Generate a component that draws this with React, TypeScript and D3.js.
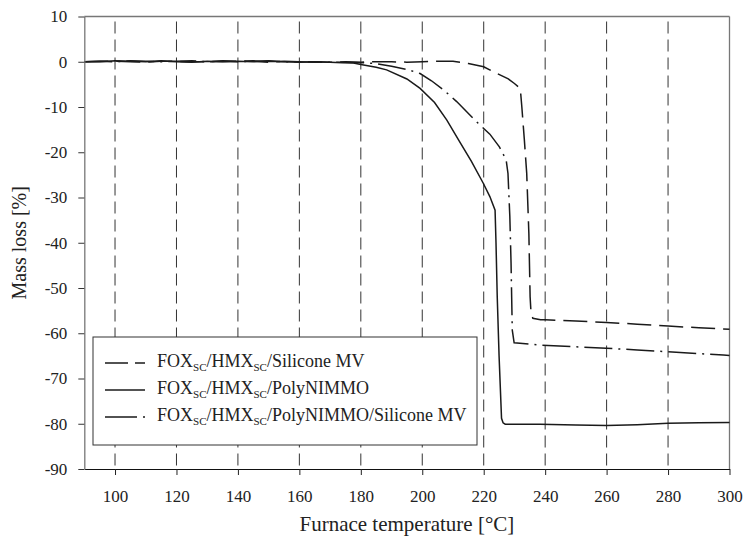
import React, { useEffect, useRef } from "react";
import * as d3 from "d3";

// Silicone MV (dashed)
const siliconeT = [90, 95, 100, 105, 110, 115, 120, 125, 130, 135, 140, 145, 150, 155, 160, 165, 170, 175, 180, 185, 190, 195, 200, 205, 210, 215, 220, 224, 228, 230, 231.9, 232.4, 233.2, 234, 234.7, 235.1, 235.4, 236, 238.5, 240, 250, 260, 270, 280, 290, 300];
const siliconeV = [0, 0.1, 0.1, 0, -0.1, 0.1, 0.1, 0, 0, 0.2, 0.1, 0.2, -0.1, 0.1, 0, 0, -0.1, 0, -0.1, 0, 0, -0.1, 0, 0.1, 0.1, -0.4, -1.1, -2.5, -3.8, -4.8, -5.9, -9.9, -17, -24.7, -38, -51.9, -55.5, -56.7, -57.0, -57.0, -57.3, -57.6, -58.0, -58.4, -58.8, -59.1];

// PolyNIMMO (solid)
const polyT = [90, 95, 100, 105, 110, 115, 120, 125, 130, 135, 140, 145, 150, 155, 160, 165, 170, 174, 177.6, 180, 185, 188.4, 195, 199.3, 204, 208, 212, 216, 219.9, 222, 223.7, 224.0, 224.4, 225, 225.8, 226.3, 227, 230, 238.3, 250, 260, 270, 280, 290, 300];
const polyV = [0, 0, 0.2, 0.1, 0, 0.2, 0, -0.1, 0.1, 0, 0.1, 0, 0.1, 0, -0.1, 0, -0.1, -0.2, -0.3, -0.6, -1.2, -1.8, -3.8, -5.9, -9.0, -12.9, -17.5, -22.0, -26.9, -29.8, -32.8, -40, -51.9, -65, -78.8, -79.8, -80.1, -80.1, -80.1, -80.3, -80.4, -80.2, -79.9, -79.8, -79.7];

// PolyNIMMO/Silicone MV (dash-dot)
const mixT = [90, 95, 100, 105, 110, 115, 120, 125, 130, 135, 140, 145, 150, 155, 160, 165, 170, 175, 180, 185, 190, 195, 199.3, 203, 206.9, 211.2, 218.2, 222, 225.1, 227.3, 227.9, 228.5, 228.9, 229.1, 229.3, 229.9, 231.8, 238.3, 250, 259.9, 270, 280, 290, 298, 300];
const mixV = [0, 0.1, 0, 0.2, 0.1, 0, 0.1, 0.2, 0, 0.1, 0, 0.1, 0.2, 0, 0, -0.1, -0.1, -0.1, -0.2, -0.4, -1.0, -1.7, -2.6, -4.2, -6.2, -8.8, -13.6, -16.0, -18.8, -21.7, -24.7, -34.2, -44.5, -52, -59.3, -62.1, -62.2, -62.6, -63.0, -63.3, -63.7, -64.1, -64.5, -64.8, -64.9];

const xTicks = [100, 120, 140, 160, 180, 200, 220, 240, 260, 280, 300];
const yTicks = [10, 0, -10, -20, -30, -40, -50, -60, -70, -80, -90];
const gridTicks = [100, 120, 140, 160, 180, 200, 220, 240, 260, 280];

const seriesNames = ["Silicone MV", "PolyNIMMO", "PolyNIMMO/Silicone MV"];
const seriesDash = ["24,8", null, "28,6,2,6"];

const font = "Liberation Serif, DejaVu Serif, Noto Serif, serif";

export default function App() {
  const svgRef = useRef<SVGSVGElement>(null);

  useEffect(() => {
    const svg = d3.select(svgRef.current);
    svg.selectAll("*").remove();

    const x = d3.scaleLinear().domain([90, 300]).range([84.3, 729.5]);
    const y = d3.scaleLinear().domain([-90, 10]).range([469, 16.5]);
    const [x0, x1] = x.range();
    const [yB, yT] = y.range();

    const g = svg.append("g").style("font-family", font);

    // dashed vertical grid
    g.selectAll(".grid")
      .data(gridTicks)
      .enter()
      .append("line")
      .attr("x1", d => x(d))
      .attr("x2", d => x(d))
      .attr("y1", yT + 5)
      .attr("y2", yB)
      .attr("stroke", "#333")
      .attr("stroke-width", 1)
      .attr("stroke-dasharray", "12,6");

    // frame (top and right)
    g.append("line").attr("x1", x0).attr("x2", x1).attr("y1", yT).attr("y2", yT)
      .attr("stroke", "#777").attr("stroke-width", 1.3);
    g.append("line").attr("x1", x1).attr("x2", x1).attr("y1", yT).attr("y2", yB)
      .attr("stroke", "#777").attr("stroke-width", 1.3);

    // series
    const tables = [
      siliconeT.map((t, i) => [t, siliconeV[i]]),
      polyT.map((t, i) => [t, polyV[i]]),
      mixT.map((t, i) => [t, mixV[i]]),
    ];
    const line = d3.line<number[]>().x(d => x(d[0])).y(d => y(d[1]));
    tables.forEach((tbl, i) => {
      const p = g.append("path")
        .datum(tbl)
        .attr("d", line)
        .attr("fill", "none")
        .attr("stroke", "#1a1a1a")
        .attr("stroke-width", 1.5);
      if (seriesDash[i]) p.attr("stroke-dasharray", seriesDash[i] as string);
    });

    // axes (plain hyphen for negatives, like the original)
    const fmt = (d: d3.NumberValue) => String(d);
    const xAxis = g.append("g")
      .attr("transform", `translate(0,${yB})`)
      .call(d3.axisBottom(x).tickValues(xTicks).tickFormat(fmt).tickSize(6).tickPadding(15).tickSizeOuter(0));
    xAxis.attr("font-family", font).attr("font-size", 17);
    xAxis.select(".domain").attr("stroke", "#111");
    xAxis.selectAll(".tick line").attr("stroke", "#222");
    xAxis.selectAll("text").style("font-family", font).attr("fill", "#222");

    const yAxis = g.append("g")
      .attr("transform", `translate(${x0},0)`)
      .call(d3.axisLeft(y).tickValues(yTicks).tickFormat(fmt).tickSize(6).tickPadding(11).tickSizeOuter(0));
    yAxis.attr("font-family", font).attr("font-size", 17);
    yAxis.select(".domain").attr("stroke", "#777").attr("stroke-width", 1.3);
    yAxis.selectAll(".tick line").attr("stroke", "#333");
    yAxis.selectAll("text").style("font-family", font).attr("fill", "#222");

    // axis titles
    g.append("text")
      .attr("x", (x0 + x1) / 2)
      .attr("y", 531)
      .attr("text-anchor", "middle")
      .style("font-family", font)
      .attr("font-size", 21)
      .attr("fill", "#222")
      .text("Furnace temperature [°C]");
    g.append("text")
      .attr("transform", `translate(26,${(yT + yB) / 2}) rotate(-90)`)
      .attr("text-anchor", "middle")
      .style("font-family", font)
      .attr("font-size", 20)
      .attr("fill", "#222")
      .text("Mass loss [%]");

    // legend
    const lg = g.append("g").attr("transform", "translate(93,337)");
    lg.append("rect")
      .attr("width", 384)
      .attr("height", 108)
      .attr("fill", "#fff")
      .attr("stroke", "#333")
      .attr("stroke-width", 1);
    seriesNames.forEach((name, i) => {
      const cy = 26 + i * 27;
      const l = lg.append("line")
        .attr("x1", 12).attr("x2", i === 2 ? 54 : 52)
        .attr("y1", cy).attr("y2", cy)
        .attr("stroke", "#1a1a1a").attr("stroke-width", 1.5);
      if (seriesDash[i]) l.attr("stroke-dasharray", i === 0 ? "23,7" : "32,6,2,6");
      const t = lg.append("text")
        .attr("x", 64)
        .attr("y", cy + 4)
        .style("font-family", font)
        .attr("font-size", 18)
        .attr("fill", "#222");
      t.append("tspan").text("FOX");
      t.append("tspan").attr("font-size", 11).attr("dy", 4).text("SC");
      t.append("tspan").attr("dy", -4).text("/HMX");
      t.append("tspan").attr("font-size", 11).attr("dy", 4).text("SC");
      t.append("tspan").attr("dy", -4).text("/" + name);
    });
  }, []);

  return (
    <div style={{ position: "absolute", left: 0, top: 0, width: 743, height: 544, background: "#fff" }}>
      <svg ref={svgRef} width={743} height={544} />
    </div>
  );
}
